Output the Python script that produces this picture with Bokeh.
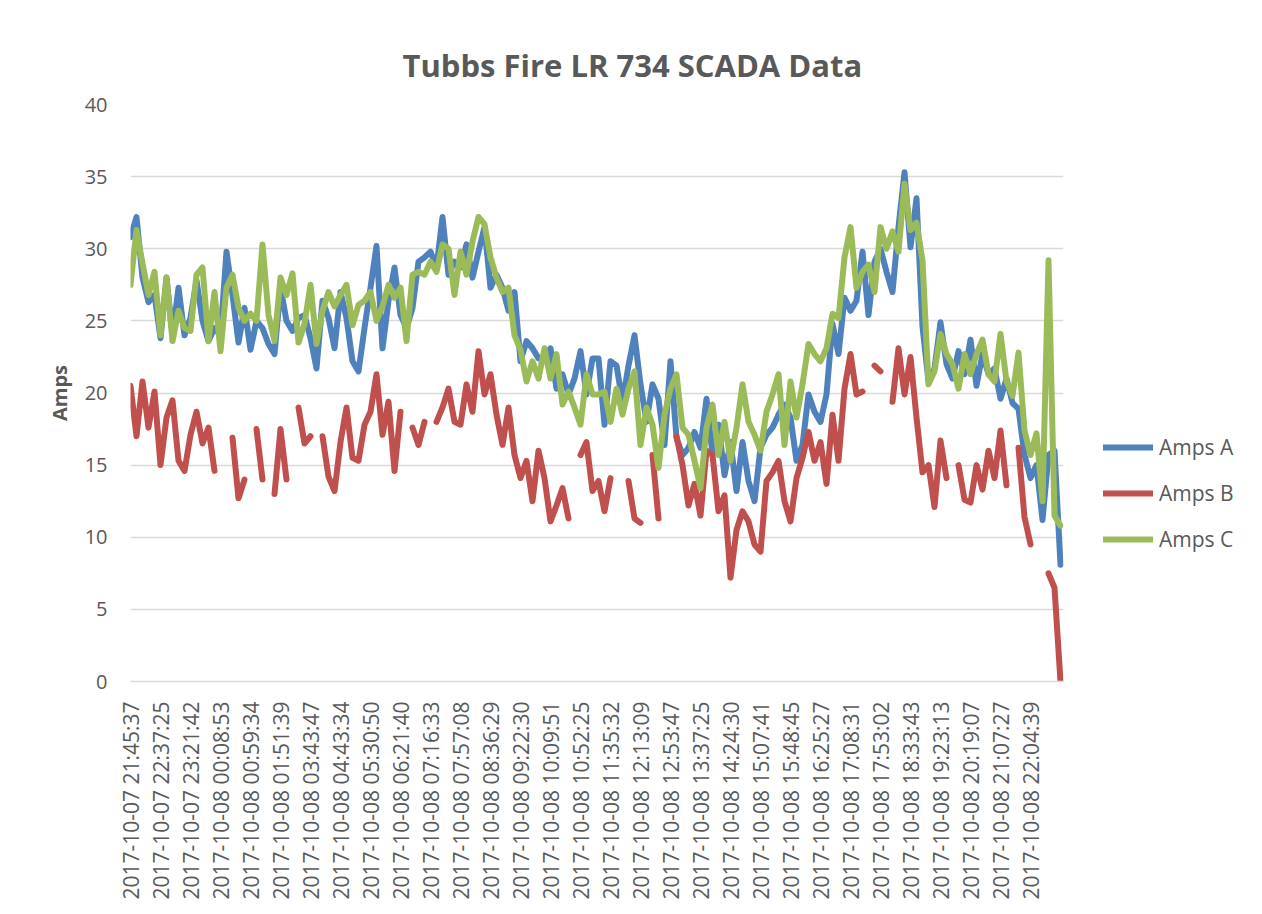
import numpy as np
from bokeh.plotting import figure
from bokeh.models import ColumnDataSource, FixedTicker, Range1d, Legend, LegendItem
from bokeh.embed import file_html
from bokeh.resources import INLINE

nan = float("nan")

timestamps = [
    "2017-10-07 21:45:37", "2017-10-07 22:37:25", "2017-10-07 23:21:42",
    "2017-10-08 00:08:53", "2017-10-08 00:59:34", "2017-10-08 01:51:39",
    "2017-10-08 03:43:47", "2017-10-08 04:43:34", "2017-10-08 05:30:50",
    "2017-10-08 06:21:40", "2017-10-08 07:16:33", "2017-10-08 07:57:08",
    "2017-10-08 08:36:29", "2017-10-08 09:22:30", "2017-10-08 10:09:51",
    "2017-10-08 10:52:25", "2017-10-08 11:35:32", "2017-10-08 12:13:09",
    "2017-10-08 12:53:47", "2017-10-08 13:37:25", "2017-10-08 14:24:30",
    "2017-10-08 15:07:41", "2017-10-08 15:48:45", "2017-10-08 16:25:27",
    "2017-10-08 17:08:31", "2017-10-08 17:53:02", "2017-10-08 18:33:43",
    "2017-10-08 19:23:13", "2017-10-08 20:19:07", "2017-10-08 21:07:27",
    "2017-10-08 22:04:39",
]
label_step = 5  # one labelled category every 5 samples

amps_a = [
    30.8, 32.2, 28.0, 26.3, 26.8, 23.8, 28.0, 24.0, 27.3, 24.0,
    25.2, 27.8, 25.0, 23.6, 24.5, 24.0, 29.8, 26.8, 23.5, 25.9,
    23.0, 25.0, 24.5, 23.4, 22.7, 27.3, 25.0, 24.3, 25.2, 25.4,
    23.8, 21.7, 26.4, 25.2, 23.1, 27.0, 25.2, 22.2, 21.5, 24.5,
    27.3, 30.2, 23.1, 26.4, 28.7, 25.4, 24.5, 25.9, 29.1, 29.4,
    29.8, 28.7, 32.2, 28.2, 29.1, 28.7, 30.3, 28.0, 29.8, 31.5,
    27.3, 28.2, 27.3, 25.7, 27.0, 22.2, 23.6, 23.1, 22.4, 22.4,
    23.1, 20.3, 21.3, 19.9, 21.0, 22.9, 19.9, 22.4, 22.4, 17.8,
    22.2, 21.9, 19.4, 21.9, 24.0, 20.6, 18.0, 20.6, 19.6, 16.4,
    22.2, 16.9, 15.7, 16.2, 17.3, 16.2, 19.6, 15.7, 17.8, 14.3,
    16.6, 13.2, 16.6, 13.9, 12.5, 16.2, 17.1, 17.6, 18.5, 19.2,
    18.3, 15.3, 16.4, 19.9, 18.7, 18.0, 19.9, 24.8, 22.7, 26.6,
    25.7, 26.4, 29.8, 25.4, 29.1, 30.0, 28.4, 27.0, 31.5, 35.3,
    30.1, 33.5, 24.6, 20.8, 21.7, 24.9, 22.0, 21.0, 22.9, 21.3,
    23.7, 20.5, 22.7, 21.3, 21.7, 19.6, 21.0, 19.3, 18.9, 15.7,
    14.1, 15.0, 11.2, 15.7, 16.0, 8.1,
]

amps_b = [
    20.5, 17.0, 20.8, 17.6, 20.1, 15.0, 18.3, 19.5, 15.3, 14.6,
    17.1, 18.7, 16.5, 17.6, 14.6, nan, nan, 16.9, 12.7, 14.0,
    nan, 17.5, 14.0, nan, 13.0, 17.5, 14.0, nan, 19.0, 16.5,
    17.0, nan, 17.0, 14.2, 13.2, 16.6, 19.0, 15.5, 15.3, 17.8,
    18.7, 21.3, 17.1, 19.4, 14.6, 18.7, nan, 17.6, 16.4, 18.0,
    nan, 18.0, 19.0, 20.3, 18.0, 17.8, 20.6, 18.7, 22.9, 19.9,
    21.3, 18.5, 16.4, 19.0, 15.7, 14.1, 15.3, 12.5, 16.0, 14.1,
    11.1, 12.2, 13.4, 11.3, nan, 15.7, 16.6, 13.2, 13.9, 11.8,
    14.1, nan, nan, 13.9, 11.3, 11.0, nan, 15.7, 11.3, nan,
    nan, 17.0, 15.0, 12.2, 13.7, 11.5, 16.0, 15.7, 11.8, 12.9,
    7.2, 10.5, 11.8, 11.1, 9.5, 9.0, 13.9, 14.5, 15.3, 12.5,
    11.1, 14.1, 15.5, 17.3, 15.3, 16.6, 13.7, 18.5, 15.3, 20.3,
    22.7, 19.9, 20.1, nan, 21.9, 21.5, nan, 19.4, 23.1, 19.9,
    22.5, 18.3, 14.5, 15.0, 12.1, 16.7, 14.1, nan, 15.0, 12.6,
    12.4, 15.0, 13.3, 16.0, 14.1, 17.4, 13.6, nan, 16.2, 11.4,
    9.5, nan, nan, 7.5, 6.5, 0.0,
]

amps_c = [
    27.5, 31.3, 29.0, 26.8, 28.4, 24.0, 28.0, 23.6, 25.7, 24.5,
    24.3, 28.2, 28.7, 23.6, 27.0, 22.9, 27.3, 28.2, 25.9, 25.0,
    25.5, 25.0, 30.3, 25.4, 23.6, 28.0, 26.8, 28.3, 23.5, 24.8,
    27.5, 23.4, 25.7, 27.0, 26.0, 26.8, 27.5, 24.7, 26.1, 26.4,
    27.0, 25.0, 26.0, 27.5, 26.6, 27.3, 23.6, 28.2, 28.4, 28.2,
    29.1, 28.4, 30.3, 30.0, 26.8, 29.8, 28.2, 30.5, 32.2, 31.7,
    29.4, 28.0, 27.0, 27.3, 24.0, 23.0, 20.8, 22.2, 21.0, 23.1,
    21.0, 22.7, 19.2, 20.1, 19.0, 17.8, 21.3, 19.9, 19.9, 20.1,
    18.0, 20.3, 18.5, 20.3, 21.5, 16.4, 19.0, 17.8, 14.8, 18.5,
    20.3, 21.3, 17.6, 17.1, 15.3, 13.4, 17.6, 19.2, 15.7, 18.0,
    15.3, 17.6, 20.6, 18.0, 17.1, 16.0, 18.7, 19.9, 21.3, 16.4,
    20.8, 18.3, 20.6, 23.4, 22.7, 22.2, 23.1, 25.5, 25.2, 29.4,
    31.5, 27.3, 28.4, 28.9, 27.0, 31.5, 30.0, 31.2, 29.8, 34.5,
    31.3, 31.8, 29.2, 20.6, 21.5, 24.1, 22.7, 22.0, 20.3, 22.7,
    21.3, 22.7, 23.7, 21.3, 20.8, 24.1, 20.8, 19.8, 22.8, 17.4,
    15.7, 17.2, 12.5, 29.2, 11.5, 10.8,
]

series_names = ["Amps A", "Amps B", "Amps C"]
series_colors = ["#4F81BD", "#C0504D", "#9BBB59"]

idx = list(range(len(amps_a)))
source = ColumnDataSource(data=dict(x=idx, a=amps_a, b=amps_b, c=amps_c))

FONT = "Open Sans"
TXT = "#595959"
GRID = "#D9D9D9"

p = figure(
    frame_width=933, frame_height=577,
    min_border_left=130, min_border_right=183, min_border_top=104, min_border_bottom=200,
    x_range=Range1d(0, 155.5), y_range=Range1d(0, 40),
    output_backend="svg", toolbar_location=None,
)
p.title.text = "Tubbs Fire LR 734 SCADA Data"
p.title.align = "left"
p.title.offset = 272
p.title.standoff = 38
p.title.text_font = FONT
p.title.text_font_size = "31px"
p.title.text_font_style = "bold"
p.title.text_color = TXT

p.outline_line_color = None
p.background_fill_color = "white"
p.border_fill_color = "white"

renderers = []
for col, name, color in zip(["a", "b", "c"], series_names, series_colors):
    r = p.line("x", col, source=source, line_color=color, line_width=6,
               line_cap="round", line_join="round")
    renderers.append((name, r))

# axes
p.xgrid.visible = False
p.ygrid.grid_line_color = GRID
p.ygrid.grid_line_width = 1.5
p.ygrid.ticker = FixedTicker(ticks=list(range(0, 41, 5)))

p.yaxis.ticker = FixedTicker(ticks=list(range(0, 41, 5)))
p.yaxis.axis_line_color = None
p.yaxis.major_tick_line_color = None
p.yaxis.minor_tick_line_color = None
p.yaxis.major_label_text_font = FONT
p.yaxis.major_label_text_font_size = "20px"
p.yaxis.major_label_text_color = TXT
p.yaxis.major_label_standoff = 17
p.yaxis.axis_label = "Amps"
p.yaxis.axis_label_text_font = FONT
p.yaxis.axis_label_text_font_size = "20px"
p.yaxis.axis_label_text_font_style = "bold"
p.yaxis.axis_label_text_color = TXT
p.yaxis.axis_label_standoff = 9

tick_pos = [i * label_step for i in range(len(timestamps))]
p.xaxis.ticker = FixedTicker(ticks=tick_pos)
p.xaxis.major_label_overrides = {t: s for t, s in zip(tick_pos, timestamps)}
p.xaxis.major_label_orientation = np.pi / 2
p.xaxis.axis_line_color = GRID
p.xaxis.axis_line_width = 1.5
p.xaxis.major_tick_line_color = None
p.xaxis.minor_tick_line_color = None
p.xaxis.major_label_text_font = FONT
p.xaxis.major_label_text_font_size = "21px"
p.xaxis.major_label_text_color = TXT
p.xaxis.major_label_standoff = 14

legend = Legend(
    items=[LegendItem(label=n, renderers=[r]) for n, r in renderers],
    location=(40, 128),
    orientation="vertical",
    border_line_color=None,
    background_fill_alpha=0,
    padding=0, margin=0,
    spacing=18, label_height=24, glyph_height=24, glyph_width=50,
    label_standoff=6,
    label_text_font=FONT, label_text_font_size="21px", label_text_color=TXT,
)
p.add_layout(legend, "right")

open("out.html", "w").write(file_html(p, INLINE))
